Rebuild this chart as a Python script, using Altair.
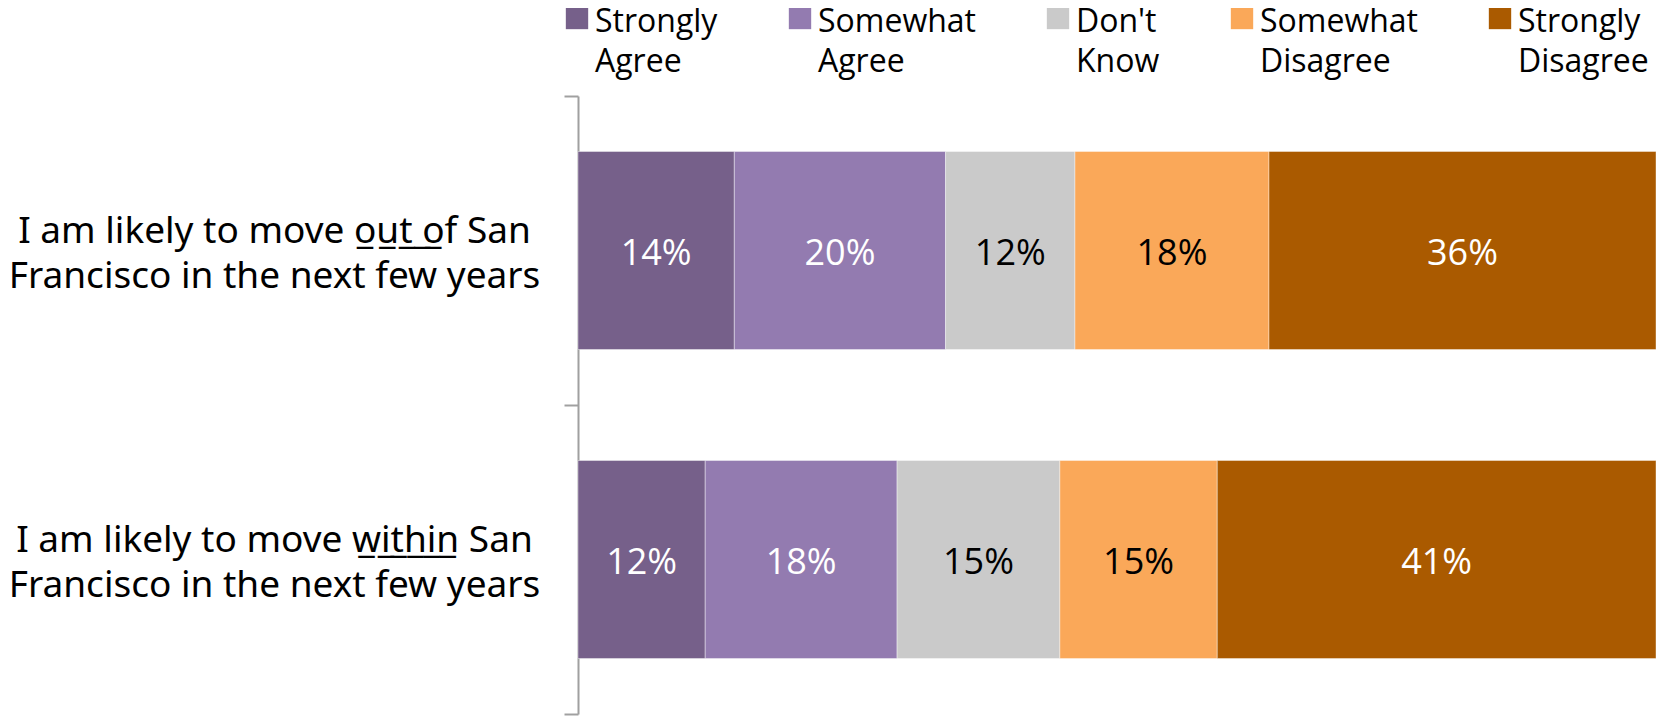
import altair as alt
import pandas as pd

questions = [
    "I am likely to move o\u0332u\u0332t\u0332 \u0332o\u0332f San|Francisco in the next few years",
    "I am likely to move w\u0332i\u0332t\u0332h\u0332i\u0332n\u0332 San|Francisco in the next few years",
]
categories = ["Strongly Agree", "Somewhat Agree", "Don't Know", "Somewhat Disagree", "Strongly Disagree"]
out_of_values = [14.5, 19.6, 12.0, 18.0, 35.9]
within_values = [11.8, 17.8, 15.1, 14.6, 40.7]
out_of_labels = ["14%", "20%", "12%", "18%", "36%"]
within_labels = ["12%", "18%", "15%", "15%", "41%"]
colors = ["#76608A", "#937BB0", "#CACACA", "#FAA859", "#AA5A00"]
text_colors = ["white", "white", "black", "black", "white"]

rows = []
for q, vals, labs in [(questions[0], out_of_values, out_of_labels), (questions[1], within_values, within_labels)]:
    for i, (c, v, l) in enumerate(zip(categories, vals, labs)):
        rows.append({"question": q, "category": c, "value": v, "label": l, "order": i, "tcolor": text_colors[i]})
df = pd.DataFrame(rows)


def build(custom_legend):
    base = alt.Chart(df).transform_stack(
        stack="value", groupby=["question"], as_=["x0", "x1"],
        sort=[alt.SortField("order", order="ascending")]
    ).transform_calculate(mid="(datum.x0 + datum.x1) / 2")

    y_enc = alt.Y(
        "question:N", sort=questions,
        scale=alt.Scale(domain=questions, paddingInner=0, paddingOuter=0),
        axis=alt.Axis(
            title=None, labelExpr="split(datum.label, '|')", labelAlign="center", labelBaseline="middle",
            labelPadding=290, labelOffset=-19, tickSize=14, tickBand="extent", tickWidth=2,
            tickColor="#A0A0A0", domainColor="#A0A0A0", domainWidth=2, labelFont="Noto Sans",
            labelFontSize=37, labelLineHeight=45, labelColor="black", labelLimit=800, grid=False,
        ),
    )

    common = dict(
        title=None, orient="none", legendX=-17, legendY=-94, direction="horizontal", columns=5,
        symbolSize=500, symbolStrokeWidth=0, labelFont="Open Sans",
        labelFontSize=32, labelExpr="split(datum.label, ' ')",
        columnPadding=66, labelOffset=2, labelLimit=400, padding=0, labelColor="black",
    )
    if custom_legend:
        legend = alt.Legend(symbolType="square", labelBaseline="alphabetic", **common)
        legend.encoding = {"labels": {"lineHeight": {"value": 40}, "dy": {"value": 14}}}
    else:
        legend = alt.Legend(symbolType="M-1,0.7H1V2.7H-1Z", labelBaseline="top", **common)

    bars = base.mark_bar(size=198, stroke="white", strokeWidth=1, strokeOpacity=0.4).encode(
        x=alt.X("x0:Q", scale=alt.Scale(domain=[0, 100], nice=False, zero=True), axis=None),
        x2="x1:Q",
        y=y_enc,
        color=alt.Color("category:N", scale=alt.Scale(domain=categories, range=colors), legend=legend),
    )

    texts = base.mark_text(font="Open Sans", fontSize=36, baseline="middle", dy=3).encode(
        x=alt.X("mid:Q", scale=alt.Scale(domain=[0, 100], nice=False, zero=True), axis=None),
        y=alt.Y("question:N", sort=questions),
        text="label:N",
        color=alt.Color("tcolor:N", scale=None),
    )

    return alt.layer(bars, texts).resolve_scale(color="independent").properties(
        width=1078, height=618,
        padding={"left": 570, "top": 88, "right": 0, "bottom": 2},
        autosize=alt.AutoSizeParams(type="none"),
        background="white",
    ).configure_view(stroke=None)


_orig_to_dict = alt.LayerChart.to_dict


def _to_dict_novalidate(self, *args, **kwargs):
    kwargs["validate"] = False
    return _orig_to_dict(self, *args, **kwargs)


try:
    alt.LayerChart.to_dict = _to_dict_novalidate
    chart = build(True)
    chart.save("out.html", embed_options={"renderer": "svg", "actions": False})
except Exception:
    alt.LayerChart.to_dict = _orig_to_dict
    chart = build(False)
    chart.save("out.html", embed_options={"renderer": "svg", "actions": False})
